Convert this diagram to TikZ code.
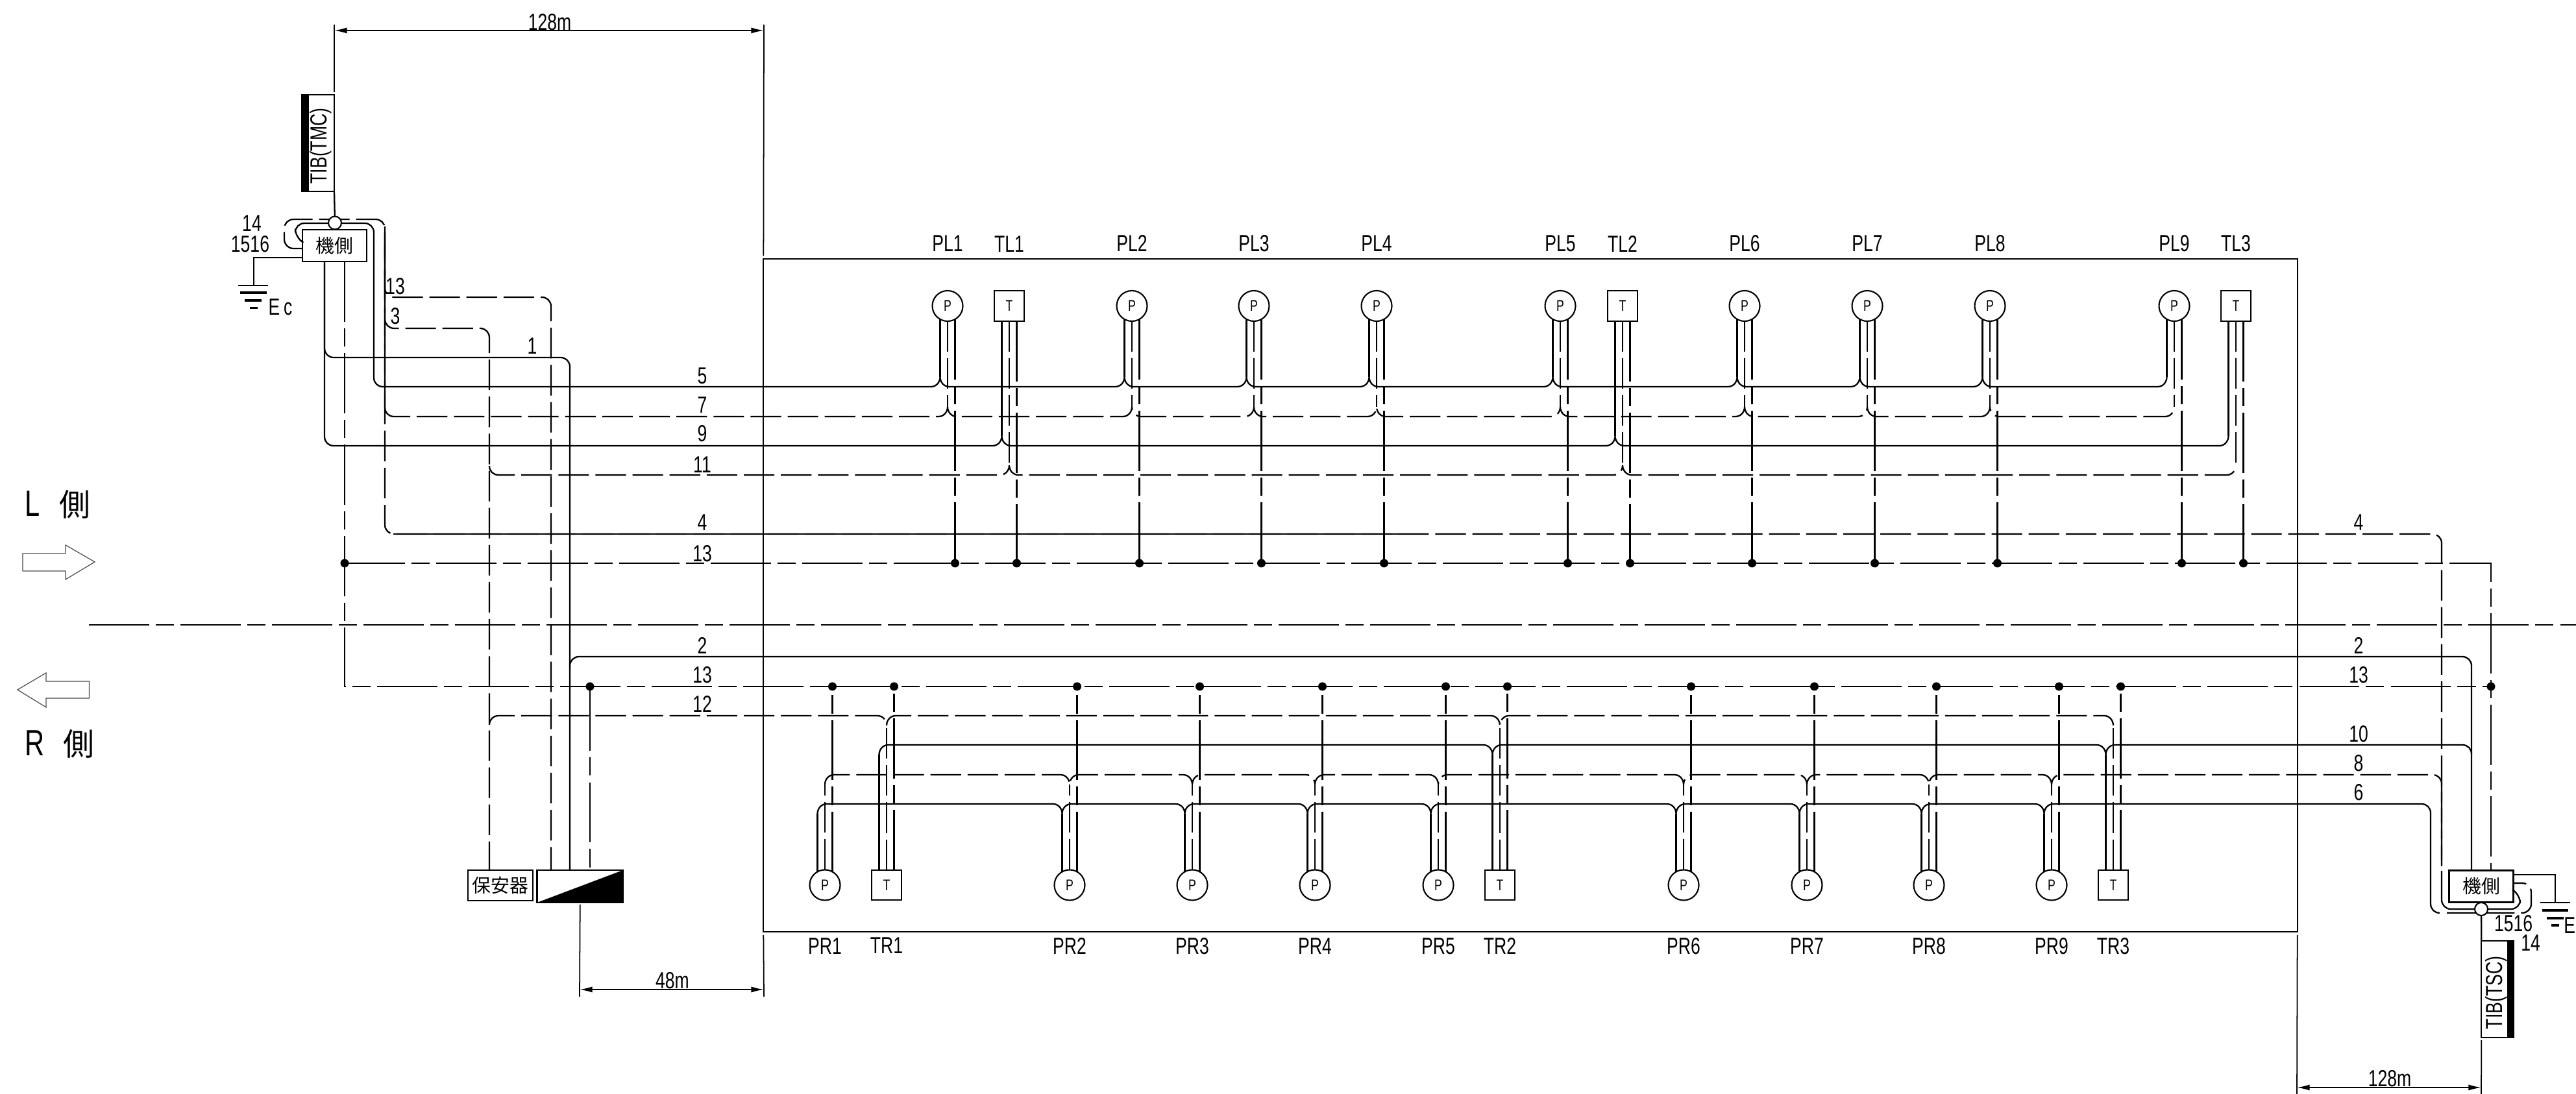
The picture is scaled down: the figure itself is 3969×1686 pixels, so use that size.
\documentclass[tikz,border=0pt]{standalone}
\usepackage{fontspec}
\setmainfont[FakeStretch=0.74]{Liberation Sans}
\newfontfamily\cjkfont{Noto Sans CJK JP}
\usetikzlibrary{arrows.meta,positioning,calc}
% branch of a line into a station wire
\newcommand{\tapup}[3]{-- ($(#1.center |- 0,#3)+(#2-14,0)$) .. controls +(8,0) and +(0,8) .. ($(#1.center |- 0,#3)+(#2,-15)$) .. controls +(0,8) and +(-8,0) .. ($(#1.center |- 0,#3)+(#2+14,0)$)}
\newcommand{\tapdown}[3]{-- ($(#1.center |- 0,#3)+(#2-14,0)$) .. controls +(8,0) and +(0,-8) .. ($(#1.center |- 0,#3)+(#2,15)$) .. controls +(0,-8) and +(-8,0) .. ($(#1.center |- 0,#3)+(#2+14,0)$)}
\newcommand{\tapendup}[3]{-- ($(#1.center |- 0,#3)+(#2-14,0)$) .. controls +(8,0) and +(0,8) .. ($(#1.center |- 0,#3)+(#2,-15)$)}
\newcommand{\tapenddown}[3]{-- ($(#1.center |- 0,#3)+(#2-14,0)$) .. controls +(8,0) and +(0,-8) .. ($(#1.center |- 0,#3)+(#2,15)$)}
\newcommand{\tapstartdown}[3]{($(#1.center |- 0,#3)+(#2,15)$) .. controls +(0,-8) and +(-8,0) .. ($(#1.center |- 0,#3)+(#2+14,0)$)}

\begin{document}
\begin{tikzpicture}[
    x=0.01cm,
    y=-0.01cm,
    plainwire/.style={line width=0.65pt},
    plaindash/.style={line width=0.65pt,dash pattern=on 13.4pt off 2.85pt},
    solidwire/.style={line width=0.65pt,rounded corners=4pt},
    dashwire/.style={solidwire,dash pattern=on 13.4pt off 2.85pt},
    chainwire/.style={line width=0.65pt,dash pattern=on 26.4pt off 2.85pt on 8pt off 2.85pt},
    pdev/.style={circle,draw,line width=0.6pt,minimum size=0.47cm,inner sep=0pt,outer sep=0pt,font=\fontsize{6.8}{8}\selectfont},
    tdev/.style={rectangle,draw,line width=0.6pt,minimum size=0.465cm,inner sep=0pt,outer sep=0pt,font=\fontsize{6.8}{8}\selectfont},
    devlabel/.style={inner sep=0pt,outer sep=0pt,font=\fontsize{10.2}{12}\selectfont},
    wirelabel/.style={inner sep=0pt,outer sep=0pt,font=\fontsize{10.2}{12}\selectfont},
    sidebox/.style={rectangle,draw,line width=0.65pt,minimum width=0.99cm,minimum height=0.49cm,inner sep=0pt,outer sep=0pt,font=\cjkfont\fontsize{8.2}{10}\selectfont},
    tibbox/.style={rectangle,draw,line width=0.6pt,minimum width=0.495cm,minimum height=1.49cm,inner sep=0pt,outer sep=0pt},
    tiblabel/.style={rotate=90,inner sep=0pt,font=\fontsize{10.2}{12}\selectfont},
    joint/.style={circle,draw,fill=white,line width=0.6pt,minimum size=0.2cm,inner sep=0pt,outer sep=0pt},
    dotnode/.style={circle,fill=black,minimum size=0.13cm,inner sep=0pt,outer sep=0pt},
    dimline/.style={<->,>={Latex[length=5.6pt,width=2.6pt]},line width=0.5pt},
    thinline/.style={line width=0.5pt},
    sidelabel/.style={anchor=base west,inner sep=0pt,outer sep=0pt},
    blockarrow/.style={draw=black!70,line width=0.35pt}
]
    \useasboundingbox (0,0) rectangle (3969,1686);

    % Frame
    \node[rectangle,draw,line width=0.65pt,minimum width=23.62cm,minimum height=10.36cm,inner sep=0pt,outer sep=0pt] (frame) at (2358,917.5) {};

    % Stations L
    \node[pdev] (pl1) at (1460,471.5) {P};
    \node[tdev] (tl1) at (1555,471.5) {T};
    \node[pdev] (pl2) at (1744,471.5) {P};
    \node[pdev] (pl3) at (1932,471.5) {P};
    \node[pdev] (pl4) at (2121,471.5) {P};
    \node[pdev] (pl5) at (2404,471.5) {P};
    \node[tdev] (tl2) at (2500,471.5) {T};
    \node[pdev] (pl6) at (2688,471.5) {P};
    \node[pdev] (pl7) at (2877,471.5) {P};
    \node[pdev] (pl8) at (3066,471.5) {P};
    \node[pdev] (pl9) at (3350,471.5) {P};
    \node[tdev] (tl3) at (3445,471.5) {T};

    % Stations R
    \node[pdev] (pr1) at (1271,1364) {P};
    \node[tdev] (tr1) at (1366,1364) {T};
    \node[pdev] (pr2) at (1648,1364) {P};
    \node[pdev] (pr3) at (1837,1364) {P};
    \node[pdev] (pr4) at (2026,1364) {P};
    \node[pdev] (pr5) at (2216,1364) {P};
    \node[tdev] (tr2) at (2311,1364) {T};
    \node[pdev] (pr6) at (2594,1364) {P};
    \node[pdev] (pr7) at (2784,1364) {P};
    \node[pdev] (pr8) at (2972,1364) {P};
    \node[pdev] (pr9) at (3161,1364) {P};
    \node[tdev] (tr3) at (3256,1364) {T};

    % Labels
    \node[devlabel, above=0.6cm of pl1] (pl1text) {PL1};
    \node[devlabel, above=0.6cm of tl1] (tl1text) {TL1};
    \node[devlabel, above=0.6cm of pl2] (pl2text) {PL2};
    \node[devlabel, above=0.6cm of pl3] (pl3text) {PL3};
    \node[devlabel, above=0.6cm of pl4] (pl4text) {PL4};
    \node[devlabel, above=0.6cm of pl5] (pl5text) {PL5};
    \node[devlabel, above=0.6cm of tl2] (tl2text) {TL2};
    \node[devlabel, above=0.6cm of pl6] (pl6text) {PL6};
    \node[devlabel, above=0.6cm of pl7] (pl7text) {PL7};
    \node[devlabel, above=0.6cm of pl8] (pl8text) {PL8};
    \node[devlabel, above=0.6cm of pl9] (pl9text) {PL9};
    \node[devlabel, above=0.6cm of tl3] (tl3text) {TL3};
    \node[devlabel, below=0.58cm of pr1] (pr1text) {PR1};
    \node[devlabel, below=0.58cm of tr1] (tr1text) {TR1};
    \node[devlabel, below=0.58cm of pr2] (pr2text) {PR2};
    \node[devlabel, below=0.58cm of pr3] (pr3text) {PR3};
    \node[devlabel, below=0.58cm of pr4] (pr4text) {PR4};
    \node[devlabel, below=0.58cm of pr5] (pr5text) {PR5};
    \node[devlabel, below=0.58cm of tr2] (tr2text) {TR2};
    \node[devlabel, below=0.58cm of pr6] (pr6text) {PR6};
    \node[devlabel, below=0.58cm of pr7] (pr7text) {PR7};
    \node[devlabel, below=0.58cm of pr8] (pr8text) {PR8};
    \node[devlabel, below=0.58cm of pr9] (pr9text) {PR9};
    \node[devlabel, below=0.58cm of tr3] (tr3text) {TR3};

    % Boxes
    \node[sidebox] (kil) at (515.5,378.5) {機側};
    \node[sidebox] (kir) at (3823,1366) {機側};
    \node[tibbox] (tmc) at (490.25,220.75) {};
    \node[tibbox] (tsc) at (3848,1524.5) {};
    \fill (tmc.north west) rectangle ($(tmc.south west)+(11,0)$);
    \fill (tsc.north east) rectangle ($(tsc.south east)+(-10,0)$);
    \node[tiblabel] (tmctext) at (494,225) {TIB(TMC)};
    \node[tiblabel] (tsctext) at (3846,1530) {TIB(TSC)};
    \node[rectangle,draw,line width=0.65pt,minimum width=1cm,minimum height=0.47cm,inner sep=0pt,outer sep=0pt,font=\cjkfont\fontsize{8.2}{10}\selectfont] (hoan) at (771,1364.5) {保安器};
    \node[rectangle,draw,line width=0.65pt,minimum width=1.325cm,minimum height=0.5cm,inner sep=0pt,outer sep=0pt] (split) at (893.75,1366) {};
    \fill (split.south west) -- (split.north east) -- (split.south east) -- cycle;

    % Wires L
    \foreach \dev/\lift/\ya/\yb in {pl1/-3/581/627,pl2/-3/581/627,pl3/-3/581/627,pl4/-3/581/627,pl5/-3/581/627,pl6/-3/581/627,pl7/-3/581/627,pl8/-3/581/627,pl9/-3/581/627,tl1/0/672/717,tl2/0/672/717,tl3/0/672/717} {
        \draw[plainwire] ($(\dev.south)+(-11.5,\lift)$) -- ($(\dev.center |- 0,\ya)+(-11.5,0)$);
        \draw[plaindash] (\dev.south) -- (\dev.center |- 0,\yb);
        \draw[chainwire] ($(\dev.south)+(11.5,\lift)$) -- ($(\dev.center |- 0,868)+(11.5,0)$);
        \node[dotnode] (\dev dot) at ($(\dev.center |- 0,868)+(11.5,0)$) {};
    }

    % Wires R
    \foreach \dev/\lift/\ya/\yb in {pr1/3/1254/1209,pr2/3/1254/1209,pr3/3/1254/1209,pr4/3/1254/1209,pr5/3/1254/1209,pr6/3/1254/1209,pr7/3/1254/1209,pr8/3/1254/1209,pr9/3/1254/1209,tr1/0/1163/1118,tr2/0/1163/1118,tr3/0/1163/1118} {
        \draw[plainwire] ($(\dev.north)+(-11.5,\lift)$) -- ($(\dev.center |- 0,\ya)+(-11.5,0)$);
        \draw[plaindash] (\dev.north) -- (\dev.center |- 0,\yb);
        \draw[chainwire] ($(\dev.north)+(11.5,\lift)$) -- ($(\dev.center |- 0,1058)+(11.5,0)$);
        \node[dotnode] (\dev dot) at ($(\dev.center |- 0,1058)+(11.5,0)$) {};
    }

    % Lines 5, 7, 9, 11
    \draw[solidwire] ($(kil.west)+(0,-5.5)$) -- (455,367) -- (455,344) -- (576,344) -- (576,583);
    \draw[plainwire] (576,582) .. controls +(0,8) and +(-8,0) .. (590,596) \foreach \dev in {pl1,pl2,pl3,pl4,pl5,pl6,pl7,pl8} {\tapup{\dev}{-11.5}{596}} \tapendup{pl9}{-11.5}{596};
    \draw[dashwire] ($(kil.west)+(0,4.5)$) -- (438,383) -- (438,338) -- (593,338) -- (593,628);
    \draw[plaindash] (593,628) .. controls +(0,8) and +(-8,0) .. (607,642) \foreach \dev in {pl1,pl2,pl3,pl4,pl5,pl6,pl7,pl8} {\tapup{\dev}{0}{642}} \tapendup{pl9}{0}{642};
    \draw[plainwire] ($(kil.south)+(-15.5,0)$) -- (500,673) .. controls +(0,8) and +(-8,0) .. (514,687) \foreach \dev in {tl1,tl2} {\tapup{\dev}{-11.5}{687}} \tapendup{tl3}{-11.5}{687};
    \draw[plaindash] (754,718) .. controls +(0,8) and +(-8,0) .. (768,732) \foreach \dev in {tl1,tl2} {\tapup{\dev}{0}{732}} \tapendup{tl3}{0}{732};

    % Lines 1, 3, 13 and 4
    \draw[solidwire] ($(kil.south)+(-15.5,0)$) -- (500,551) -- (878,551) -- (878,0 |- split.north);
    \draw[dashwire] (593,360) -- (593,506) -- (754,506) -- (754,0 |- hoan.north);
    \draw[dashwire] (593,349) -- (593,458) -- (849,458) -- (849,0 |- split.north);
    \draw[dashwire] (593,378) -- (593,823) -- (3762,823) -- (3762,1330);
    \draw[solidwire] (606,823) -- (2170,823);

    % Line 13
    \draw[chainwire] ($(kil.south)+(15.5,0)$) -- (531,1058) -- (3838,1058);
    \draw[chainwire] (531,868) -- (3838,868) -- ($(kir.north)+(15,0)$);
    \node[dotnode] (busleft) at (531,868) {};
    \node[dotnode] (busright) at (3838,1058) {};
    \node[dotnode] (bussplit) at (909,1058) {};
    \draw[chainwire] (bussplit) -- (909,0 |- split.north);

    % Lines 2, 12, 10, 8, 6
    \draw[solidwire] (878,1030) -- (878,1012) -- (3808,1012) -- ($(kir.north)+(-15,0)$);
    \draw[plaindash] (754,1117) .. controls +(0,-8) and +(-8,0) .. (768,1103) \foreach \dev in {tr1,tr2} {\tapdown{\dev}{0}{1103}} \tapenddown{tr3}{0}{1103};
    \draw[plainwire] \tapstartdown{tr1}{-11.5}{1148} \foreach \dev in {tr2,tr3} {\tapdown{\dev}{-11.5}{1148}} -- (3794,1148) .. controls +(8,0) and +(0,-8) .. (3808,1162);
    \draw[plaindash] \tapstartdown{pr1}{0}{1194} \foreach \dev in {pr2,pr3,pr4,pr5,pr6,pr7,pr8,pr9} {\tapdown{\dev}{0}{1194}} -- (3748,1194) .. controls +(8,0) and +(0,-8) .. (3762,1208) -- (3762,1335);
    \draw[plainwire] \tapstartdown{pr1}{-11.5}{1239} \foreach \dev in {pr2,pr3,pr4,pr5,pr6,pr7,pr8,pr9} {\tapdown{\dev}{-11.5}{1239}} -- (3731,1239) .. controls +(8,0) and +(0,-8) .. (3745,1253) -- (3745,1393) .. controls +(0,8) and +(-8,0) .. (3759,1407);
    \draw[solidwire] (3762,1342) -- (3762,1401) -- (3883,1401) -- (3883,1378) -- ($(kir.east)+(0,6)$);
    \draw[dashwire] (3770,1407) -- (3900,1407) -- (3900,1361) -- ($(kir.east)+(0,-5)$);

    % Joints and TIB
    \node[joint] (jointl) at (516,343.5) {};
    \node[joint] (jointr) at (3823,1401) {};
    \draw[plainwire] (tmc.south east) -- (jointl);
    \draw[plainwire] (jointr) -- (tsc.north west);

    % Earth
    \coordinate (earthl) at (391,440);
    \coordinate (earthr) at (3937,1391);
    \draw[plainwire] ($(kil.west)+(0,18.5)$) -| (earthl);
    \draw[plainwire] ($(kir.east)+(0,-18)$) -| (earthr);
    \draw[thinline] ($(earthl)+(-24,0)$) -- ($(earthl)+(22,0)$);
    \draw[line width=1.2pt] ($(earthl)+(-21,11)$) -- ($(earthl)+(20,11)$);
    \draw[line width=1pt] ($(earthl)+(-14,23)$) -- ($(earthl)+(12,23)$);
    \draw[line width=1pt] ($(earthl)+(-6,34.5)$) -- ($(earthl)+(6,34.5)$);
    \draw[thinline] ($(earthr)+(-23,0)$) -- ($(earthr)+(23,0)$);
    \draw[line width=1.2pt] ($(earthr)+(-20,12)$) -- ($(earthr)+(20,12)$);
    \draw[line width=1pt] ($(earthr)+(-13,24)$) -- ($(earthr)+(13,24)$);
    \draw[line width=1pt] ($(earthr)+(-6,35)$) -- ($(earthr)+(6,35)$);
    \node[wirelabel] (ecl) at (432,473) {E\,c};
    \node[wirelabel,anchor=east] (ecr) at (3968,1426) {E};
    \node[wirelabel] (n14l) at (388,344) {14};
    \node[wirelabel] (n1516l) at (385.5,376) {1516};
    \node[wirelabel] (n1516r) at (3872.5,1423) {1516};
    \node[wirelabel] (n14r) at (3899,1453) {14};

    % Center line
    \coordinate (centerl) at (137,963);
    \coordinate (centerr) at (3969,963);
    \draw[chainwire] (centerl) -- (centerr);

    % Dimensions
    \coordinate (dima) at (515,47);
    \coordinate (dimb) at (1177,47);
    \coordinate (dimc) at (893,1525);
    \coordinate (dimd) at (1177,1525);
    \coordinate (dime) at (3539,1676);
    \coordinate (dimf) at (3823,1676);
    \draw[dimline] (dima) -- (dimb);
    \draw[dimline] (dimc) -- (dimd);
    \draw[dimline] (dime) -- (dimf);
    \draw[thinline] ($(dima)+(0,-9)$) -- ($(tmc.north east)+(0,-4)$);
    \draw[thinline] ($(dimb)+(0,-9)$) -- ($(frame.north west)+(0,-5)$);
    \draw[thinline] ($(split.south)+(0,3)$) -- ($(dimc)+(0,11)$);
    \draw[thinline] ($(frame.south west)+(0,5)$) -- ($(dimd)+(0,11)$);
    \draw[thinline] ($(frame.south east)+(0,5)$) -- (3539,1686);
    \draw[thinline] ($(tsc.south west)+(0,4)$) -- (3823,1686);
    \node[wirelabel] (dimatext) at (847,34) {128m};
    \node[wirelabel] (dimctext) at (1036,1511) {48m};
    \node[wirelabel] (dimetext) at (3682,1662) {128m};

    % Line numbers
    \node[wirelabel] (n13a) at (609,441) {13};
    \node[wirelabel] (n3) at (609,487.5) {3};
    \node[wirelabel] (n1) at (820,533.5) {1};
    \node[wirelabel] (n5) at (1082,579) {5};
    \node[wirelabel] (n7) at (1082,624) {7};
    \node[wirelabel] (n9) at (1082,668) {9};
    \node[wirelabel] (n11) at (1082,716) {11};
    \node[wirelabel] (n4a) at (1082,805) {4};
    \node[wirelabel] (n13b) at (1082,853) {13};
    \node[wirelabel] (n2a) at (1082,995) {2};
    \node[wirelabel] (n13c) at (1082,1040) {13};
    \node[wirelabel] (n12) at (1082,1085) {12};
    \node[wirelabel] (n4b) at (3634,805.5) {4};
    \node[wirelabel] (n2b) at (3634,994.5) {2};
    \node[wirelabel] (n13d) at (3634,1040) {13};
    \node[wirelabel] (n10) at (3634,1131) {10};
    \node[wirelabel] (n8) at (3634,1176) {8};
    \node[wirelabel] (n6) at (3634,1221) {6};

    % Sides
    \node[sidelabel] (lside) at (38,796) {\fontsize{16}{18}\selectfont L\hspace{8.5pt}{\cjkfont\fontsize{13.6}{16}\selectfont 側}};
    \node[sidelabel] (rside) at (38,1165) {\fontsize{16}{18}\selectfont R\hspace{8.5pt}{\cjkfont\fontsize{13.6}{16}\selectfont 側}};
    \draw[blockarrow] (35,853) -- (101,853) -- (101,840) -- (146,866) -- (101,893) -- (101,880) -- (35,880) -- cycle;
    \draw[blockarrow] (137.5,1050) -- (71,1050) -- (71,1037) -- (27,1063) -- (71,1090) -- (71,1076) -- (137.5,1076) -- cycle;
\end{tikzpicture}
\end{document}
